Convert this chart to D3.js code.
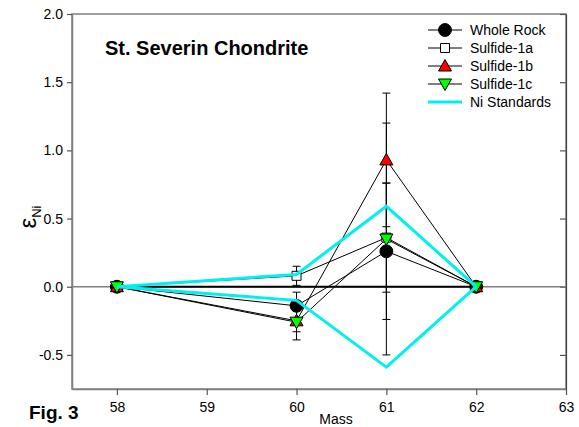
<!DOCTYPE html>
<html>
<head>
<meta charset="utf-8">
<script src="https://cdn.jsdelivr.net/npm/d3@7"></script>
<style>
  body { margin: 0; background: #fff; }
  text { font-family: Arial, "Liberation Sans", sans-serif; }
</style>
</head>
<body>
<div id="graph"></div>
<script>
// DATA
const masses = [58, 60, 61, 62]
const xTicks = [58, 59, 60, 61, 62, 63]
const yTicks = [-0.5, 0.0, 0.5, 1.0, 1.5, 2.0]

const wholeRock = [0, -0.14, 0.26, 0]
const wholeRockErr = [0, 0.10, 0.50, 0]
const sulfide1a = [0, 0.08, 0.36, 0]
const sulfide1aErr = [0, 0.07, 0.40, 0]
const sulfide1b = [0, -0.25, 0.93, 0]
const sulfide1bErr = [0, 0.08, 0.49, 0]
const sulfide1c = [0, -0.26, 0.35, 0]
const sulfide1cErr = [0, 0.13, 0.85, 0]
const niStdUpper = [0, 0.09, 0.59, 0]
const niStdLower = [0, -0.10, -0.59, 0]

const seriesNames = ["Whole Rock", "Sulfide-1a", "Sulfide-1b", "Sulfide-1c", "Ni Standards"]

// Colours
const cyan = "#00f0f0"
const frameGrey = "#808080"

// Set graph dimensions
const width = 579, height = 427
const margin = { top: 14, right: 13, bottom: 38, left: 72 }
const gWidth = width - margin.left - margin.right
const gHeight = height - margin.top - margin.bottom

const svg = d3.select('#graph').append("svg").attr("width", width).attr("height", height)
const graph = svg.append('g').attr("transform", `translate(${margin.left}, ${margin.top})`)

const xScale = d3.scaleLinear().domain([57.5, 63]).range([0, gWidth])
const yScale = d3.scaleLinear().domain([-0.75, 2.0]).range([gHeight, 0])

// Frame (top and right)
graph.append("rect")
  .attr("width", gWidth).attr("height", gHeight)
  .attr("fill", "none").attr("stroke", frameGrey).attr("stroke-width", 1.5)

// Axes (hyphen instead of unicode minus, like the original)
const yFormat = d => d3.format(".1f")(d).replace("−", "-")
const xAxis = graph.append('g').attr("transform", `translate(0, ${gHeight})`)
  .call(d3.axisBottom(xScale).tickValues(xTicks).tickFormat(d3.format("d")).tickSize(6).tickSizeOuter(0))
const yAxis = graph.append('g')
  .call(d3.axisLeft(yScale).tickValues(yTicks).tickFormat(yFormat).tickSize(5).tickSizeOuter(0))
const yRight = graph.append('g').attr("transform", `translate(${gWidth}, 0)`)
  .call(d3.axisLeft(yScale).tickValues(yTicks).tickFormat("").tickSize(6).tickSizeOuter(0))

;[xAxis, yAxis, yRight].forEach(ax => {
  ax.select(".domain").attr("stroke", frameGrey).attr("stroke-width", 1.5)
  ax.selectAll(".tick line").attr("stroke", "#555").attr("stroke-width", 1.2)
  ax.selectAll(".tick text").attr("font-size", 14).attr("fill", "#000")
    .style("font-family", "Arial, 'Liberation Sans', sans-serif")
})
xAxis.selectAll(".tick text").attr("y", 13)
yAxis.selectAll(".tick text").attr("x", -9)
yRight.select(".domain").attr("stroke", "#444").attr("stroke-width", 1.2)

// Zero reference lines
graph.append("line")
  .attr("x1", 0).attr("x2", gWidth).attr("y1", yScale(0)).attr("y2", yScale(0))
  .attr("stroke", frameGrey).attr("stroke-width", 1.5)
graph.append("line")
  .attr("x1", xScale(58)).attr("x2", xScale(62)).attr("y1", yScale(0)).attr("y2", yScale(0))
  .attr("stroke", "#000").attr("stroke-width", 2)

// Series
const series = [
  { name: seriesNames[0], values: wholeRock, err: wholeRockErr, shape: "circle", fill: "#000" },
  { name: seriesNames[1], values: sulfide1a, err: sulfide1aErr, shape: "square", fill: "#fff" },
  { name: seriesNames[2], values: sulfide1b, err: sulfide1bErr, shape: "up", fill: "#ff0000" },
  { name: seriesNames[3], values: sulfide1c, err: sulfide1cErr, shape: "down", fill: "#00ff00" }
]

const line = d3.line()
  .x((d, i) => xScale(masses[i]))
  .y(d => yScale(d))

// connecting lines
series.forEach(s => {
  graph.append("path").attr("d", line(s.values))
    .attr("fill", "none").attr("stroke", "#000").attr("stroke-width", 1)
})

// error bars
series.forEach(s => {
  s.values.forEach((v, i) => {
    if (s.err[i] <= 0) return
    const x = xScale(masses[i])
    const g = graph.append("g").attr("stroke", "#000").attr("stroke-width", 1)
    g.append("line").attr("x1", x).attr("x2", x)
      .attr("y1", yScale(v - s.err[i])).attr("y2", yScale(v + s.err[i]))
    ;[v - s.err[i], v + s.err[i]].forEach(e => {
      g.append("line").attr("x1", x - 4).attr("x2", x + 4)
        .attr("y1", yScale(e)).attr("y2", yScale(e))
    })
  })
})

function symbolPath(shape) {
  if (shape == "circle") return d3.symbol(d3.symbolCircle, 130)()
  if (shape == "square") return "M-4.5,-4.5H4.5V4.5H-4.5Z"
  if (shape == "up") return "M0,-6.5L6.5,5L-6.5,5Z"
  return "M0,6.5L6.5,-5L-6.5,-5Z"
}

// markers
series.forEach(s => {
  graph.selectAll(null).data(s.values).enter()
    .append("path")
    .attr("transform", (d, i) => `translate(${xScale(masses[i])}, ${yScale(d)})`)
    .attr("d", symbolPath(s.shape))
    .attr("fill", s.fill).attr("stroke", "#000").attr("stroke-width", 1)
})

// Ni standards envelope
;[niStdUpper, niStdLower].forEach(vals => {
  graph.append("path").attr("d", line(vals))
    .attr("fill", "none").attr("stroke", cyan).attr("stroke-width", 3)
})

// Legend
const legend = svg.append("g").attr("transform", "translate(428, 30)")
series.forEach((s, i) => {
  const row = legend.append("g").attr("transform", `translate(0, ${i * 18})`)
  row.append("line").attr("x1", 0).attr("x2", 34).attr("stroke", "#000").attr("stroke-width", 1)
  row.append("path").attr("transform", "translate(17, 0)").attr("d", symbolPath(s.shape))
    .attr("fill", s.fill).attr("stroke", "#000").attr("stroke-width", 1)
  row.append("text").attr("x", 42).attr("y", 5).attr("font-size", 14).text(s.name)
})
const stdRow = legend.append("g").attr("transform", `translate(0, ${4 * 18})`)
stdRow.append("line").attr("x1", 0).attr("x2", 34).attr("stroke", cyan).attr("stroke-width", 3)
stdRow.append("text").attr("x", 42).attr("y", 5).attr("font-size", 14).text(seriesNames[4])

// Title and labels
svg.append("text").attr("x", 105).attr("y", 55)
  .attr("font-size", 20).attr("font-weight", "bold").text("St. Severin Chondrite")

svg.append("text").attr("x", 29).attr("y", 419)
  .attr("font-size", 19).attr("font-weight", "bold").text("Fig. 3")

svg.append("text").attr("x", 336).attr("y", 424)
  .attr("font-size", 14).attr("text-anchor", "middle").text("Mass")

const yLabel = svg.append("text")
  .attr("transform", "translate(36, 217) rotate(-90)")
  .attr("text-anchor", "middle")
yLabel.append("tspan").attr("font-size", 24).text("ε")
yLabel.append("tspan").attr("font-size", 13).attr("dy", 5).text("Ni")
</script>
</body>
</html>
